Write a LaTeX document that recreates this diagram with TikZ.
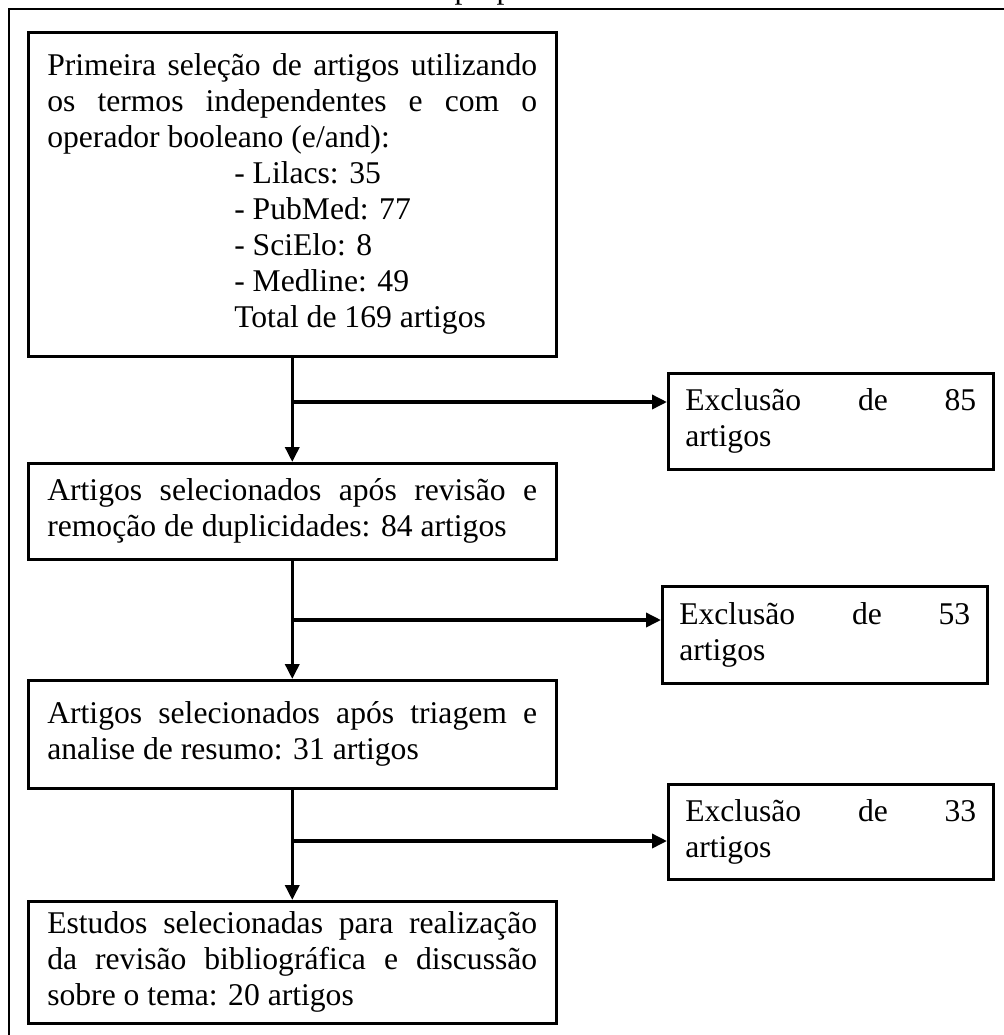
\documentclass[tikz,border=0pt]{standalone}
\usepackage{fontspec}
\setmainfont{Liberation Serif}
\usetikzlibrary{arrows.meta}

\tikzset{
    box/.style={draw, line width=1.5pt, anchor=north west, align=justify,
        inner xsep=0.38cm, inner ysep=0pt, text width=9.8cm,
        font=\fontsize{18}{20.5}\selectfont},
    exclbox/.style={box, text width=5.82cm, inner xsep=0.34cm},
    flow/.style={line width=2pt, -{Triangle[length=0.3cm,width=0.28cm]}},
}

\begin{document}
\begin{tikzpicture}[x=0.02cm, y=-0.02cm]
    \useasboundingbox (0,0) rectangle (1004,1035);
    % frame and caption
    \draw[line width=1pt] (9,9) rectangle (1020,1050);
    \node[anchor=base, font=\fontsize{18}{20.5}\selectfont, inner sep=0pt] (caption) at (509,-2) {proposta};

    % main column
    \node[box, minimum height=6.48cm] (sel1) at (27,31) {Primeira seleção de artigos utilizando\linebreak
        os termos independentes e com o\linebreak operador booleano (e/and):\\
        \hspace*{3.74cm}- Lilacs: 35\\
        \hspace*{3.74cm}- PubMed: 77\\
        \hspace*{3.74cm}- SciElo: 8\\
        \hspace*{3.74cm}- Medline: 49\\
        \hspace*{3.74cm}Total de 169 artigos};
    \node[box, minimum height=1.92cm] (sel2) at (27,462) {Artigos selecionados após revisão e\linebreak
        remoção de duplicidades: 84 artigos};
    \node[box, minimum height=2.16cm] (sel3) at (27,679) {Artigos selecionados após triagem e\linebreak
        analise de resumo: 31 artigos};
    \node[box, minimum height=2.44cm] (sel4) at (27,900) {Estudos selecionadas para realização\linebreak
        da revisão bibliográfica e discussão\linebreak sobre o tema: 20 artigos};

    % exclusions
    \node[exclbox, minimum height=1.92cm] (excl1) at (667,372) {Exclusão de 85\linebreak artigos};
    \node[exclbox, minimum height=1.94cm] (excl2) at (661,585) {Exclusão de 53\linebreak artigos};
    \node[exclbox, minimum height=1.9cm] (excl3) at (667,783) {Exclusão de 33\linebreak artigos};

    % arrows
    \draw[flow] (sel1) -- (sel2);
    \draw[flow] (sel2) -- (sel3);
    \draw[flow] (sel3) -- (sel4);

    \coordinate (b1) at (291,402);
    \coordinate (b2) at (291,620);
    \coordinate (b3) at (291,841);
    \draw[flow] (b1) -- (b1 -| excl1.west);
    \draw[flow] (b2) -- (b2 -| excl2.west);
    \draw[flow] (b3) -- (b3 -| excl3.west);
\end{tikzpicture}
\end{document}
